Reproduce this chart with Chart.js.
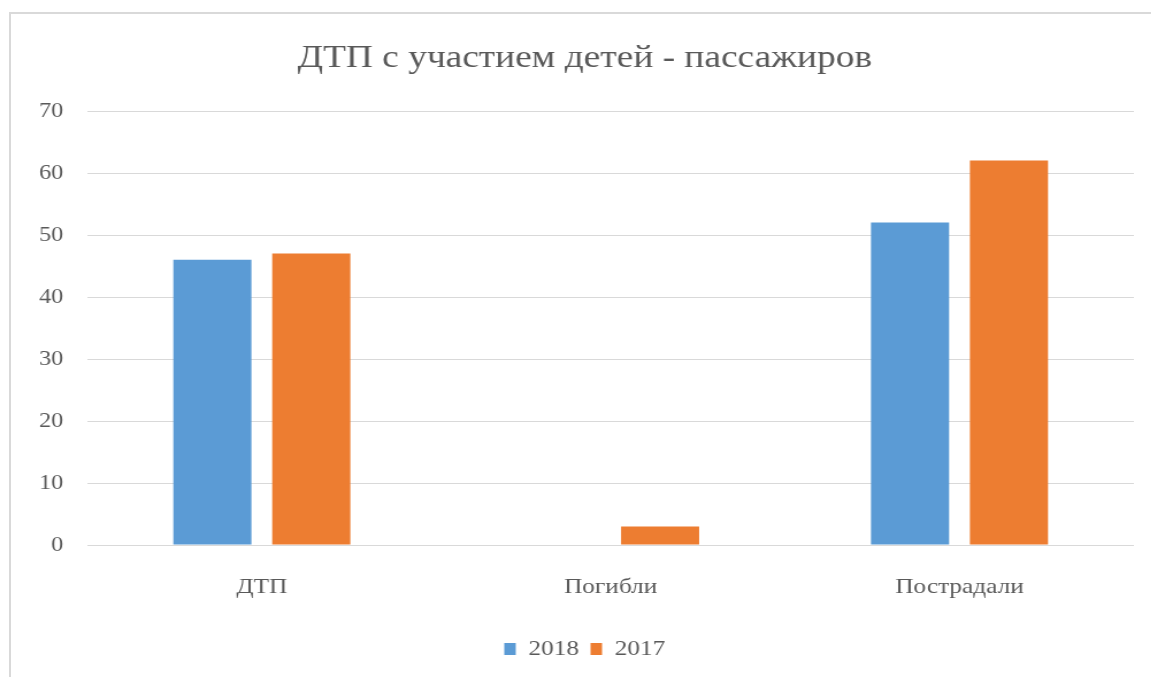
<!DOCTYPE html>
<html>
<head>
<meta charset="utf-8">
<script src="https://cdn.jsdelivr.net/npm/chart.js@4.4.1/dist/chart.umd.min.js"></script>
<style>
  html, body { margin: 0; padding: 0; background: #fff; overflow: hidden; }
  #frame { position: absolute; left: 9px; top: 12px; width: 1160px; height: 700px; border: 2px solid #d9d9d9; }
  /* the source picture is stretched sideways, so the chart is drawn narrower and scaled out */
  #wrap { position: absolute; left: 0; top: 0; width: 1001px; height: 677px; transform: scaleX(1.15); transform-origin: 0 0; }
</style>
</head>
<body>
<div id="frame"></div>
<div id="wrap"><canvas id="accidentsChart"></canvas></div>
<script>
const categories = ['ДТП', 'Погибли', 'Пострадали'];
const values2018 = [46, 0, 52];
const values2017 = [47, 3, 62];
const seriesLabels = ['2018', '2017'];
const yMax = 70;
const yStep = 10;

const FONT = "'Liberation Serif', 'Times New Roman', serif";
const TEXT_COLOR = '#595959';

const ctx = document.getElementById('accidentsChart').getContext('2d');
new Chart(ctx, {
  type: 'bar',
  data: {
    labels: categories,
    datasets: [
      { label: seriesLabels[0], data: values2018, backgroundColor: '#5B9BD5' },
      { label: seriesLabels[1], data: values2017, backgroundColor: '#ED7D31' }
    ]
  },
  options: {
    responsive: true, maintainAspectRatio: false,
    animation: false,
    categoryPercentage: 0.567,
    barPercentage: 0.79,
    layout: { padding: { left: 31, right: 15, top: 0, bottom: 7 } },
    plugins: {
      title: {
        display: true,
        text: 'ДТП с участием детей - пассажиров',
        color: TEXT_COLOR,
        font: { family: FONT, size: 32.5, weight: 'normal' },
        padding: { top: 39, bottom: 33 }
      },
      legend: {
        position: 'bottom',
        labels: {
          color: TEXT_COLOR,
          font: { family: FONT, size: 22 },
          boxWidth: 10, boxHeight: 12,
          padding: 10
        }
      },
      tooltip: { enabled: false }
    },
    scales: {
      x: {
        grid: { display: false, drawTicks: false },
        border: { display: false },
        ticks: { color: TEXT_COLOR, font: { family: FONT, size: 22 }, padding: 29 },
        afterFit: (scale) => { scale.height = 83; }
      },
      y: {
        min: 0, max: yMax,
        grid: { color: '#d9d9d9', drawTicks: false, lineWidth: 1 },
        border: { display: false },
        ticks: { stepSize: yStep, color: TEXT_COLOR, font: { family: FONT, size: 21 }, padding: 21 },
        afterFit: (scale) => { scale.width = 45; }
      }
    }
  }
});
</script>
</body>
</html>
